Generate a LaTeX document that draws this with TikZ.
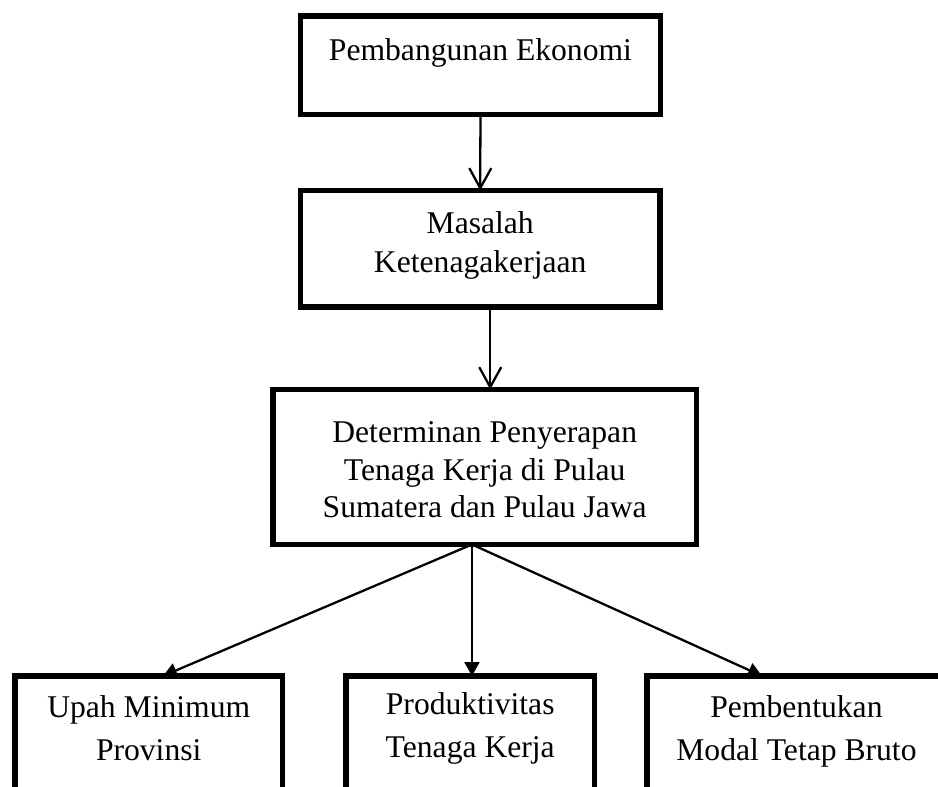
\documentclass[tikz,border=0pt]{standalone}
\usepackage{fontspec}
\setmainfont{Liberation Serif}
\usetikzlibrary{arrows.meta}

\begin{document}
\begin{tikzpicture}[
  x=0.02cm, y=-0.02cm,
  box/.style={draw, line width=3.2pt, inner sep=0pt, outer sep=0pt, anchor=north west},
  txt/.style={align=center, inner sep=0pt, anchor=north, font=\fontsize{18}{22}\selectfont},
  arr/.style={-{Straight Barb[length=0.4cm, width=0.44cm]}, line width=1.3pt},
  tri/.style={-{Triangle[length=0.28cm, width=0.3cm]}, line width=1.3pt},
]
  \useasboundingbox (0,0) rectangle (938,787);
  \clip (0,0) rectangle (938,787);

  % boxes
  \node[box, minimum width=7.2cm, minimum height=1.97cm] (eko) at (300.5,16) {};
  \node[box, minimum width=7.19cm, minimum height=2.33cm] (mas) at (300.5,190.5) {};
  \node[box, minimum width=8.47cm, minimum height=3.1cm] (det) at (273,389.5) {};
  \node[box, minimum width=5.35cm, minimum height=2.8cm] (ump) at (15,676) {};
  \node[box, minimum width=4.97cm, minimum height=2.8cm] (pro) at (346,676) {};
  \node[box, minimum width=5.98cm, minimum height=2.8cm] (pmtb) at (647,676) {};

  % texts
  \node[txt] (ekoT) at ([yshift=-0.44cm]eko.north) {Pembangunan Ekonomi};
  \node[txt] (masT) at ([yshift=-0.42cm]mas.north) {Masalah\\Ketenagakerjaan};
  \node[txt, font=\fontsize{18}{21.3}\selectfont] (detT) at ([yshift=-0.64cm]det.north)
       {Determinan Penyerapan\\Tenaga Kerja di Pulau\\Sumatera dan Pulau Jawa};
  \node[txt, font=\fontsize{18}{24.5}\selectfont] (umpT) at ([yshift=-0.38cm]ump.north)
       {Upah Minimum\\Provinsi};
  \node[txt, font=\fontsize{18}{24.5}\selectfont] (proT) at ([yshift=-0.32cm]pro.north)
       {Produktivitas\\Tenaga Kerja};
  \node[txt, font=\fontsize{18}{24.5}\selectfont] (pmtbT) at ([yshift=-0.38cm]pmtb.north)
       {Pembentukan\\Modal Tetap Bruto};

  % connectors
  \draw[arr] (eko.south) -- (mas.north);
  \draw[arr] ([xshift=0.2cm]mas.south) -- ([xshift=0.2cm]mas.south |- det.north);
  \coordinate (fan) at ([xshift=-0.255cm]det.south);
  \draw[tri] (fan) -- (fan |- pro.north);
  \draw[tri] (fan) -- ([xshift=2.96cm]ump.north west);
  \draw[tri] (fan) -- ([xshift=2.3cm]pmtb.north west);
\end{tikzpicture}
\end{document}
